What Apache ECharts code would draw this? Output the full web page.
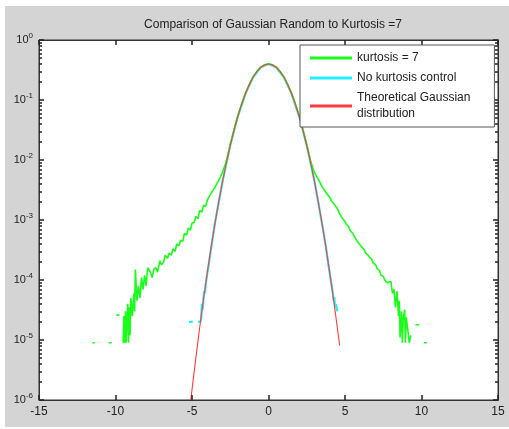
<!DOCTYPE html>
<html>
<head>
<meta charset="utf-8">
<script src="https://cdn.jsdelivr.net/npm/echarts@6/dist/echarts.min.js"></script>
<style>
  html, body { margin: 0; padding: 0; background: #fff; }
  #chart { position: absolute; left: 5px; top: 6px; width: 504px; height: 421px; background: #d4d4d4; }
</style>
</head>
<body>
<div id="chart"></div>
<script>
// tick values
const xTicks = [-15, -10, -5, 0, 5, 10, 15]
const yDecades = [1e-6, 1e-5, 1e-4, 1e-3, 1e-2, 1e-1, 1]
const yMinor = []
yDecades.slice(0, 6).forEach(d => { for (let k = 2; k <= 9; k++) yMinor.push(d * k) })

// kurtosis = 7 (green), '-' marks a gap
const kurtX = [-11.5, -11.35, -11.2, -10.45, -10.25, -10.1, -9.95, -9.75, -9.6,
  -9.5, -9.45, -9.4, -9.35, -9.3, -9.25, -9.2, -9.15, -9.1, -9.05, -9.0, -8.9, -8.8, -8.75, -8.7, -8.6, -8.5, -8.4, -8.3, -8.2,
  -8.1, -8.0, -7.9, -7.75, -7.6, -7.5, -7.35, -7.25, -7.1, -7.0, -6.85, -6.75, -6.6, -6.5, -6.35, -6.25, -6.1, -6.0,
  -5.85, -5.75, -5.6, -5.5, -5.35, -5.25, -5.1, -5.0, -4.85, -4.75, -4.6, -4.5, -4.35, -4.25, -4.1, -4.0,
  -3.75, -3.5, -3.25, -3.0, -2.75, -2.5, -2.25, -2.0, -1.75, -1.5, -1.25, -1.0, -0.75, -0.5, -0.25, 0,
  0.25, 0.5, 0.75, 1.0, 1.25, 1.5, 1.75, 2.0, 2.25, 2.5, 2.75, 3.0, 3.25, 3.5, 3.75,
  4.0, 4.1, 4.25, 4.35, 4.5, 4.6, 4.75, 4.85, 5.0, 5.1, 5.25, 5.35, 5.5, 5.6, 5.75, 5.85, 6.0,
  6.1, 6.25, 6.35, 6.5, 6.6, 6.75, 6.85, 7.0, 7.1, 7.25, 7.35, 7.5, 7.6, 7.75, 7.85, 8.0,
  8.1, 8.2, 8.3, 8.4, 8.5, 8.55, 8.6, 8.7, 8.75, 8.8, 8.9, 8.95, 9.0, 9.1, 9.2,
  9.3, 9.45, 9.6, 9.85, 10.0, 10.15, 10.35, 10.55]
const kurtY = [9e-6, 9e-6, '-', 9e-6, 9e-6, '-', 2.6e-5, 2.6e-5, '-',
  9e-6, 2.5e-5, 9e-6, 3e-5, 9e-6, 2.2e-5, 4e-5, 9e-6, 3.5e-5, 1.2e-5, 5e-5, 2.5e-5, 6e-5, 3e-5, 1.5e-4, 4.5e-5, 8e-5, 5e-5, 1.1e-4, 7e-5,
  1.2e-4, 8e-5, 1.6e-4, 1.4e-4, 1.1e-4, 1.5e-4, 1.6e-4, 1.35e-4, 2.1e-4, 1.8e-4, 2.0e-4, 2.6e-4, 2.3e-4, 2.8e-4, 2.6e-4, 3.3e-4, 3.0e-4, 4.0e-4,
  3.7e-4, 4.6e-4, 4.4e-4, 6.0e-4, 5.6e-4, 7.3e-4, 6.8e-4, 8.8e-4, 9.2e-4, 1.15e-3, 1.05e-3, 1.45e-3, 1.35e-3, 1.75e-3, 1.7e-3, 2.15e-3,
  2.8e-3, 3.5e-3, 4.6e-3, 6.3e-3, 9.6e-3, 0.0178, 0.032, 0.0545, 0.087, 0.13, 0.183, 0.243, 0.302, 0.353, 0.388, 0.401,
  0.388, 0.353, 0.302, 0.243, 0.183, 0.13, 0.087, 0.0545, 0.032, 0.0178, 9.6e-3, 6.2e-3, 4.8e-3, 3.6e-3, 2.9e-3,
  2.4e-3, 2.1e-3, 1.9e-3, 1.75e-3, 1.55e-3, 1.35e-3, 1.15e-3, 1.05e-3, 9.4e-4, 8.4e-4, 7.6e-4, 6.6e-4, 6.0e-4, 5.4e-4, 4.6e-4, 4.3e-4, 3.8e-4,
  3.6e-4, 3.2e-4, 2.8e-4, 2.6e-4, 2.4e-4, 2.2e-4, 1.9e-4, 1.8e-4, 1.55e-4, 1.45e-4, 1.2e-4, 1.15e-4, 1.0e-4, 9e-5, 8.5e-5, 9.5e-5, 6e-5,
  7e-5, 3.5e-5, 6.5e-5, 2.5e-5, 4.5e-5, 1.1e-5, 3e-5, 9e-6, 2.2e-5, 3.2e-5, 9e-6, 2.4e-5, 1.5e-5, 9e-6, 1.2e-5,
  '-', 1.8e-5, 1.8e-5, '-', 9e-6, 9e-6, '-', 9e-6]

// no kurtosis control (cyan)
const plainX = [-5.2, -4.95, -4.8, -4.6, -4.45, -4.4, -4.35, -4.3, -4.25, -4.2, -4.15, -4.1, -4.0, -3.9, -3.75, -3.5, -3.25, -3.0,
  -2.5, -2.0, -1.5, -1.0, -0.5, 0, 0.5, 1.0, 1.5, 2.0, 2.5,
  3.0, 3.25, 3.5, 3.75, 3.9, 4.0, 4.1, 4.2, 4.25, 4.3, 4.35, 4.4, 4.5]
const plainY = [2e-5, 2e-5, '-', 2e-5, 2e-5, 2.3e-5, 4e-5, 3.2e-5, 5e-5, 6.6e-5, 6e-5, 8.6e-5, 1.3e-4, 1.85e-4, 3.4e-4, 8.9e-4, 2.0e-3, 4.4e-3,
  0.0176, 0.054, 0.129, 0.242, 0.352, 0.398, 0.352, 0.242, 0.129, 0.054, 0.0176,
  4.5e-3, 2.0e-3, 8.6e-4, 3.6e-4, 1.9e-4, 1.3e-4, 9e-5, 6.2e-5, 4.6e-5, 5.2e-5, 3.5e-5, 4e-5, 3e-5]

// theoretical gaussian (red)
const gaussX = [-5.1, -5.0, -4.75, -4.5, -4.25, -4.0, -3.75, -3.5, -3.25, -3.0, -2.75, -2.5, -2.25, -2.0, -1.75, -1.5, -1.25, -1.0,
  -0.75, -0.5, -0.25, 0, 0.25, 0.5, 0.75, 1.0, 1.25, 1.5, 1.75, 2.0, 2.25, 2.5, 2.75, 3.0, 3.25, 3.5, 3.75, 4.0, 4.25, 4.5, 4.65]
const gaussY = [9e-7, 1.49e-6, 5.0e-6, 1.6e-5, 4.77e-5, 1.34e-4, 3.53e-4, 8.73e-4, 2.03e-3, 4.43e-3, 9.09e-3, 0.0175, 0.0317, 0.054, 0.0863, 0.1295, 0.1826, 0.242,
  0.3011, 0.3521, 0.3867, 0.3989, 0.3867, 0.3521, 0.3011, 0.242, 0.1826, 0.1295, 0.0863, 0.054, 0.0317, 0.0175, 9.09e-3, 4.43e-3, 2.03e-3, 8.73e-4, 3.53e-4, 1.34e-4, 4.77e-5, 1.6e-5, 8.1e-6]

const zip = (xs, ys) => xs.map((x, i) => [x, ys[i]])

const font = 'Arial, "Liberation Sans", sans-serif'
const axisColor = '#333'
const tickStyle = { color: '#222', width: 1.5 }

const chart = echarts.init(document.getElementById('chart'))

const yBase = {
  type: 'log',
  logBase: 10,
  min: 1e-6,
  max: 1,
  z: 5,
  splitLine: { show: false },
  axisLine: { show: true, onZero: false, lineStyle: { color: axisColor } }
}

const xBase = {
  type: 'value',
  min: -15,
  max: 15,
  interval: 5,
  z: 5,
  splitLine: { show: false },
  axisLine: { show: true, onZero: false, lineStyle: { color: axisColor } },
  axisTick: { show: true, inside: true, length: 5, lineStyle: tickStyle }
}

chart.setOption({
  animation: false,
  textStyle: { fontFamily: font },
  title: {
    text: 'Comparison of Gaussian Random to Kurtosis =7',
    left: 263,
    top: 8,
    textAlign: 'center',
    textStyle: { fontSize: 12, fontWeight: 'normal', color: '#222', fontFamily: font }
  },
  legend: {
    orient: 'vertical',
    left: 295,
    top: 39,
    width: 186,
    padding: [5, 24, 5, 10],
    itemGap: 4,
    itemWidth: 42,
    itemHeight: 3,
    icon: 'rect',
    z: 10,
    backgroundColor: '#fff',
    borderColor: '#555',
    borderWidth: 1,
    borderRadius: 0,
    textStyle: { fontSize: 12, color: '#222', lineHeight: 16, fontFamily: font },
    data: ['kurtosis = 7', 'No kurtosis control', 'Theoretical Gaussian\ndistribution']
  },
  grid: {
    left: 34, right: 11, top: 34, bottom: 27, containLabel: false, z: -1,
    show: true, backgroundColor: '#fff', borderColor: axisColor, borderWidth: 1
  },
  xAxis: [
    Object.assign({}, xBase, {
      position: 'bottom',
      axisLabel: { color: '#222', fontSize: 12, margin: 6, customValues: xTicks }
    }),
    Object.assign({}, xBase, {
      position: 'top',
      axisLabel: { show: false }
    })
  ],
  yAxis: [
    Object.assign({}, yBase, {
      position: 'left',
      axisTick: { show: true, inside: true, length: 5, customValues: yDecades, lineStyle: tickStyle },
      axisLabel: {
        margin: 6,
        customValues: yDecades,
        formatter: v => '{b|10}{e|' + Math.round(Math.log10(v)) + '}',
        rich: {
          b: { fontSize: 11, color: '#222', fontFamily: font },
          e: { fontSize: 8, color: '#222', fontFamily: font, padding: [0, 0, 9, 0] }
        }
      }
    }),
    Object.assign({}, yBase, {
      position: 'left',
      axisTick: { show: true, inside: true, length: 3, customValues: yMinor, lineStyle: tickStyle },
      axisLabel: { show: false }
    }),
    Object.assign({}, yBase, {
      position: 'right',
      axisTick: { show: true, inside: true, length: 5, customValues: yDecades, lineStyle: tickStyle },
      axisLabel: { show: false }
    }),
    Object.assign({}, yBase, {
      position: 'right',
      axisTick: { show: true, inside: true, length: 3, customValues: yMinor, lineStyle: tickStyle },
      axisLabel: { show: false }
    })
  ],
  series: [
    {
      name: 'kurtosis = 7',
      type: 'line',
      z: 3,
      data: zip(kurtX, kurtY),
      showSymbol: false,
      symbol: 'none',
      connectNulls: false,
      clip: true,
      lineStyle: { color: '#19ff19', width: 1.6 },
      itemStyle: { color: '#19ff19' }
    },
    {
      name: 'No kurtosis control',
      type: 'line',
      z: 2,
      data: zip(plainX, plainY),
      showSymbol: false,
      symbol: 'none',
      connectNulls: false,
      clip: true,
      lineStyle: { color: '#22eeff', width: 2.2 },
      itemStyle: { color: '#22eeff' }
    },
    {
      name: 'Theoretical Gaussian\ndistribution',
      type: 'line',
      z: 4,
      data: zip(gaussX, gaussY),
      showSymbol: false,
      symbol: 'none',
      clip: true,
      lineStyle: { color: '#ff3b3b', width: 1.1 },
      itemStyle: { color: '#ff3b3b' }
    }
  ]
})

window.addEventListener('resize', () => chart.resize())
</script>
</body>
</html>
